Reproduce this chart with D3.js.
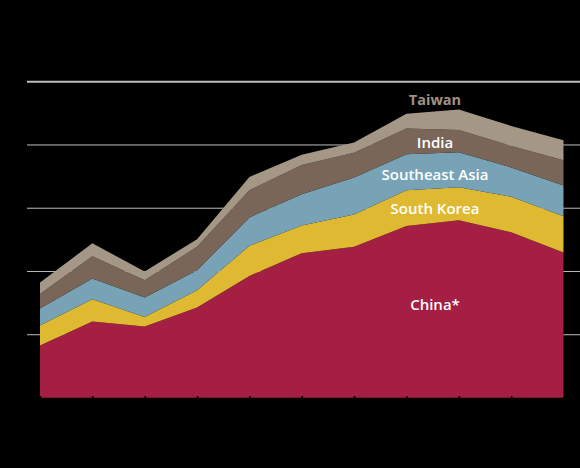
<!DOCTYPE html>
<html>
<head>
<meta charset="utf-8">
<script src="https://cdn.jsdelivr.net/npm/d3@7"></script>
<style>
  html, body { margin: 0; padding: 0; background: #000; }
  svg { display: block; }
</style>
</head>
<body>
<svg id="chart" width="580" height="468"></svg>
<script>
// ---- data ----
const periods = ["P1","P2","P3","P4","P5","P6","P7","P8","P9","P10","P11"];
const china       = [8.3, 12.1, 11.3, 14.3, 19.3, 22.9, 23.9, 27.2, 28.1, 26.2, 23.0];
const southKorea  = [3.15, 3.5, 1.5, 2.75, 4.75, 4.35, 5.1, 5.65, 5.2, 5.6, 5.75];
const southeastAsia = [2.7, 3.3, 3.1, 3.15, 4.5, 4.95, 5.85, 5.7, 5.55, 4.65, 4.85];
const india       = [2.3, 3.5, 2.7, 3.7, 4.3, 4.65, 3.9, 4.05, 3.5, 3.4, 4.0];
const taiwan      = [1.8, 2.05, 1.4, 1.2, 2.1, 1.6, 1.65, 2.35, 3.25, 3.15, 3.15];
const seriesNames = ["China*", "South Korea", "Southeast Asia", "India", "Taiwan"];
const seriesKeys  = ["china", "southKorea", "southeastAsia", "india", "taiwan"];
const yTicks = [0, 10, 20, 30, 40, 50];

// ---- styling ----
const colors = {
  china: "#a51e43",
  southKorea: "#e0b932",
  southeastAsia: "#78a3b6",
  india: "#7a6559",
  taiwan: "#a59785"
};

const table = periods.map((p, i) => ({
  period: p,
  china: china[i], southKorea: southKorea[i], southeastAsia: southeastAsia[i],
  india: india[i], taiwan: taiwan[i]
}));

const svg = d3.select("#chart");
const W = 580, H = 468;
svg.append("rect").attr("width", W).attr("height", H).attr("fill", "#000");

const x = d3.scalePoint().domain(periods).range([40, 563.5]);
const y = d3.scaleLinear().domain([0, 50]).range([398, 81.7]);

// gridlines
const grid = svg.append("g");
grid.selectAll("line").data(yTicks.filter(t => t > 0)).join("line")
  .attr("x1", 27).attr("x2", W)
  .attr("y1", d => y(d)).attr("y2", d => y(d))
  .attr("stroke", "#bdbdbd")
  .attr("stroke-width", d => d === 50 ? 2 : 1);

// stacked areas
const stack = d3.stack().keys(seriesKeys);
const layers = stack(table);
const area = d3.area()
  .x(d => x(d.data.period))
  .y0(d => y(d[0]))
  .y1(d => y(d[1]));

svg.append("g").selectAll("path").data(layers).join("path")
  .attr("d", area)
  .attr("fill", d => colors[d.key]);

// x axis (black, mostly invisible, small ticks)
const xAxis = d3.axisBottom(x).tickSizeInner(-2).tickSizeOuter(0).tickFormat("");
const gx = svg.append("g").attr("transform", "translate(0,398)").call(xAxis);
gx.selectAll("path, line").attr("stroke", "#000").attr("stroke-width", 1.5);

// labels
const labels = [
  { key: "taiwan", text: seriesNames[4], y: 105, fill: "#a09282", weight: 700, size: 14.5 },
  { key: "india", text: seriesNames[3], y: 147.5, fill: "#ffffff", weight: 600, size: 15 },
  { key: "southeastAsia", text: seriesNames[2], y: 180, fill: "#ffffff", weight: 600, size: 15 },
  { key: "southKorea", text: seriesNames[1], y: 214, fill: "#ffffff", weight: 600, size: 15 },
  { key: "china", text: seriesNames[0], y: 310, fill: "#ffffff", weight: 600, size: 15 }
];
svg.append("g").selectAll("text").data(labels).join("text")
  .attr("x", 435)
  .attr("y", d => d.y)
  .attr("text-anchor", "middle")
  .attr("font-family", "'Open Sans', 'Noto Sans', sans-serif")
  .attr("font-weight", d => d.weight)
  .attr("font-size", d => d.size)
  .attr("fill", d => d.fill)
  .text(d => d.text);
</script>
</body>
</html>
